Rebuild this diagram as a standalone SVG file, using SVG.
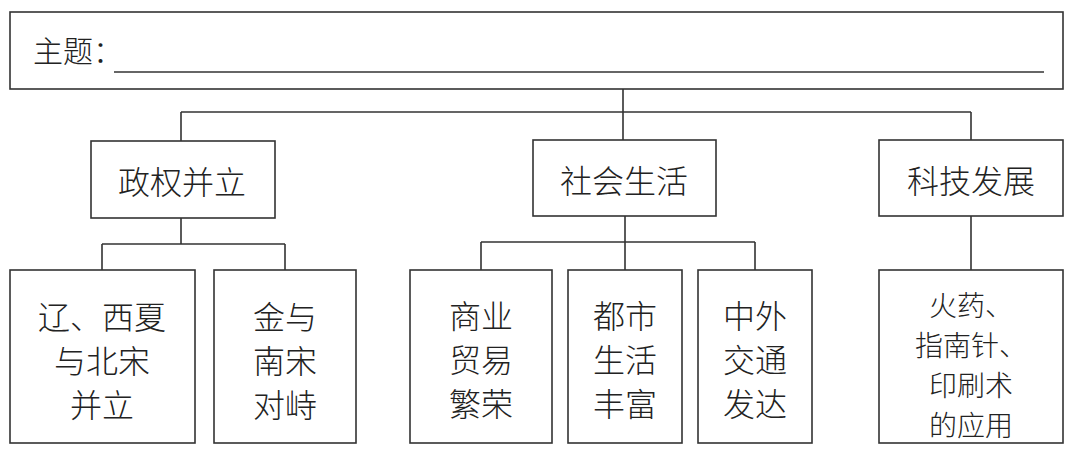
<svg xmlns="http://www.w3.org/2000/svg" width="1080" height="449" viewBox="0 0 1080 449">
<style>
.box{fill:#fff;stroke:#333;stroke-width:1.6}
.ln{fill:none;stroke:#333;stroke-width:1.6}
text{font-family:"Noto Sans CJK SC","Noto Sans",sans-serif;font-size:32px;fill:#222;text-anchor:middle;dominant-baseline:central;font-weight:300}
.sm{font-size:28px}
</style>
<rect width="1080" height="449" fill="#fff"/>
<g id="connectors">
<path class="ln" d="M623 89V112M181 112H971M181 112V141M623 112V140M971 112V140"/>
<path class="ln" d="M181 218V244M102 244H285M102 244V270M285 244V270"/>
<path class="ln" d="M625 216V242M481 242H755M481 242V270M625 242V270M755 242V270"/>
<path class="ln" d="M971 216V270"/>
</g>
<g id="theme">
<rect class="box" x="10" y="12" width="1053" height="77"/>
<text x="33" y="49" style="text-anchor:start;font-size:30px">主题：</text>
<line class="ln" x1="114" y1="72" x2="1044" y2="72"/>
</g>
<g id="n1"><rect class="box" x="91" y="141" width="184" height="77"/><text x="182" y="180">政权并立</text></g>
<g id="n2"><rect class="box" x="533" y="140" width="183" height="76"/><text x="624" y="179">社会生活</text></g>
<g id="n3"><rect class="box" x="879" y="140" width="184" height="76"/><text x="971" y="179">科技发展</text></g>
<g id="b1"><rect class="box" x="10" y="270" width="185" height="173"/>
<text x="102" y="315">辽、西夏</text><text x="102" y="359">与北宋</text><text x="102" y="403">并立</text></g>
<g id="b2"><rect class="box" x="214" y="270" width="142" height="173"/>
<text x="285" y="315">金与</text><text x="285" y="359">南宋</text><text x="285" y="403">对峙</text></g>
<g id="b3"><rect class="box" x="410" y="270" width="142" height="173"/>
<text x="481" y="314">商业</text><text x="481" y="358">贸易</text><text x="481" y="402">繁荣</text></g>
<g id="b4"><rect class="box" x="568" y="270" width="114" height="173"/>
<text x="625" y="314">都市</text><text x="625" y="358">生活</text><text x="625" y="402">丰富</text></g>
<g id="b5"><rect class="box" x="698" y="270" width="114" height="173"/>
<text x="755" y="314">中外</text><text x="755" y="358">交通</text><text x="755" y="402">发达</text></g>
<g id="b6"><rect class="box" x="879" y="270" width="184" height="173"/>
<text class="sm" x="971" y="304">火药、</text><text class="sm" x="971" y="344">指南针、</text><text class="sm" x="971" y="384">印刷术</text><text class="sm" x="971" y="424">的应用</text></g>
</svg>
